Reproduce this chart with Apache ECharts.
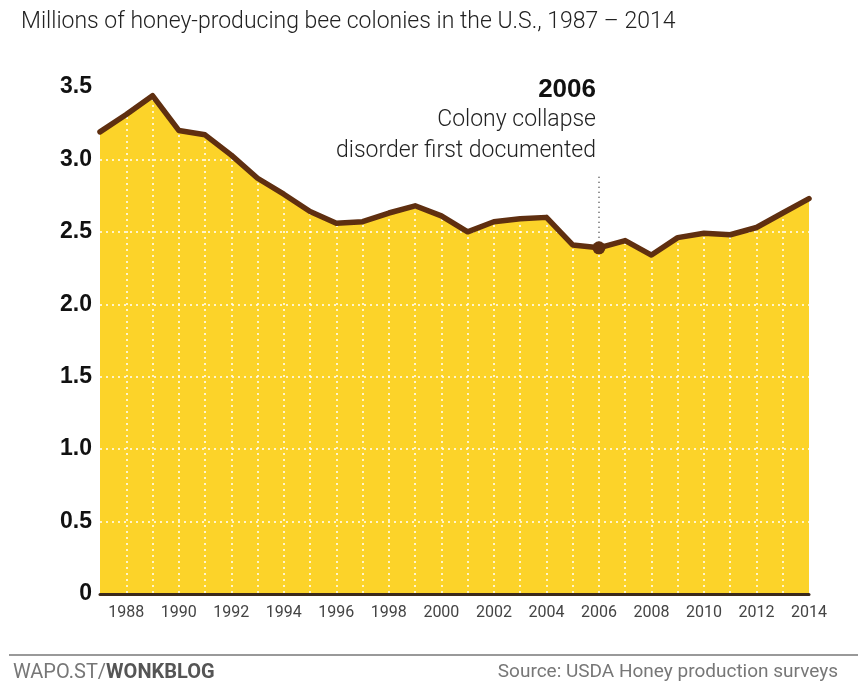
<!DOCTYPE html>
<html lang="en">
<head>
  <meta charset="UTF-8">
  <title>Honey bee colonies</title>
  <script src="https://cdn.jsdelivr.net/npm/echarts@6.0.0/dist/echarts.min.js"></script>
  <style>
    body { margin: 0; background: #fff; }
  </style>
</head>
<body>
  <div id="main" style="width: 865px;height:695px;"></div>

  <script type="text/javascript">
    // Data (millions of colonies)
    let years = ['1987', '1988', '1989', '1990', '1991', '1992', '1993', '1994', '1995', '1996',
                 '1997', '1998', '1999', '2000', '2001', '2002', '2003', '2004', '2005', '2006',
                 '2007', '2008', '2009', '2010', '2011', '2012', '2013', '2014'];
    let colonies = [3.19, 3.31, 3.44, 3.20, 3.17, 3.03, 2.87, 2.76, 2.64, 2.56,
                    2.57, 2.63, 2.68, 2.61, 2.50, 2.57, 2.59, 2.60, 2.41, 2.39,
                    2.44, 2.34, 2.46, 2.49, 2.48, 2.53, 2.63, 2.73];
    let yTicks = [0, 0.5, 1.0, 1.5, 2.0, 2.5, 3.0, 3.5];
    let yTickLabels = ['0', '0.5', '1.0', '1.5', '2.0', '2.5', '3.0', '3.5'];
    let highlightYear = '2006';
    let highlightValue = colonies[years.indexOf(highlightYear)];

    let myChart = echarts.init(document.getElementById('main'));

    let options = {
      animation: false,
      title: {
        text: 'Millions of honey-producing bee colonies in the U.S., 1987 \u2013 2014',
        left: 16,
        top: 6,
        textStyle: { fontFamily: 'Roboto', fontWeight: 300, fontSize: 23, color: '#222' }
      },
      grid: { left: 100, right: 56, top: 87, bottom: 101 },
      xAxis: {
        type: 'category',
        data: years,
        boundaryGap: false,
        z: 3,
        axisLine: { lineStyle: { color: '#3b2a1c', width: 3 } },
        axisTick: { show: false },
        axisLabel: {
          interval: (i) => i % 2 === 1,
          margin: 11,
          fontFamily: 'Roboto',
          fontSize: 16,
          color: '#444'
        },
        splitLine: {
          show: true,
          interval: (i) => i > 0 && i < years.length - 1,
          lineStyle: { color: '#fff', type: [2, 4], width: 1.5 }
        }
      },
      yAxis: {
        type: 'value',
        min: 0,
        max: 3.5,
        interval: 0.5,
        z: 3,
        axisLine: { show: false },
        axisTick: { show: false },
        axisLabel: {
          margin: 8,
          fontFamily: 'Liberation Sans',
          fontWeight: 'bold',
          fontSize: 23,
          color: '#111',
          formatter: (v) => yTickLabels[yTicks.indexOf(v)] ?? String(v)
        },
        splitLine: {
          lineStyle: { color: '#fff', type: [2, 4], width: 1.5 }
        }
      },
      series: [
        {
          // yellow fill, under the dotted grid
          name: 'area',
          type: 'line',
          data: colonies,
          z: 1,
          showSymbol: false,
          lineStyle: { width: 0 },
          areaStyle: { color: '#fcd329', opacity: 1 },
          silent: true
        },
        {
          // brown outline, above the grid
          name: 'colonies',
          type: 'line',
          data: colonies,
          z: 5,
          showSymbol: false,
          lineStyle: { color: '#5f2f10', width: 5.5, join: 'round', cap: 'round' },
          markLine: {
            silent: true,
            symbol: 'none',
            label: { show: false },
            lineStyle: { color: '#444', type: [1, 4], width: 1.5 },
            data: [[{ coord: [highlightYear, highlightValue] }, { coord: [highlightYear, 2.9] }]]
          }
        },
        {
          name: 'highlight',
          type: 'scatter',
          z: 6,
          symbolSize: 13,
          itemStyle: { color: '#5f2f10', opacity: 1 },
          data: [[highlightYear, highlightValue]]
        }
      ],
      graphic: [
        {
          type: 'text', right: 269, top: 77, z: 100,
          style: { text: '2006', fontFamily: 'Liberation Sans', fontWeight: 'bold', fontSize: 26, fill: '#111' }
        },
        {
          type: 'text', right: 269, top: 109, z: 100,
          style: { text: 'Colony collapse', fontFamily: 'Roboto', fontWeight: 300, fontSize: 23, fill: '#222' }
        },
        {
          type: 'text', right: 269, top: 140, z: 100,
          style: { text: 'disorder first documented', fontFamily: 'Roboto', fontWeight: 300, fontSize: 23, fill: '#222' }
        },
        {
          type: 'rect', left: 9, top: 654, z: 100,
          shape: { width: 849, height: 2 },
          style: { fill: '#999' }
        },
        {
          type: 'text', left: 13, top: 663, z: 100,
          style: {
            text: '{a|WAPO.ST/}{b|WONKBLOG}',
            rich: {
              a: { fontFamily: 'Roboto', fontSize: 20, fill: '#777' },
              b: { fontFamily: 'Roboto', fontWeight: 'bold', fontSize: 20, fill: '#555' }
            }
          }
        },
        {
          type: 'text', right: 27, top: 663, z: 100,
          style: { text: 'Source: USDA Honey production surveys', fontFamily: 'Roboto', fontSize: 19, fill: '#777' }
        }
      ]
    };

    myChart.setOption(options);
  </script>
</body>
</html>
